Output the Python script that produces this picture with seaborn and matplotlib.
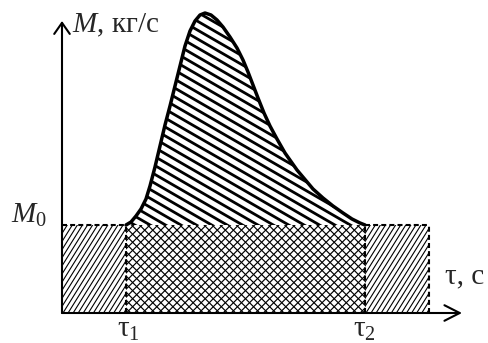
import numpy as np
import matplotlib
matplotlib.use("Agg")
import matplotlib.pyplot as plt
import seaborn as sns
from matplotlib.collections import LineCollection
from matplotlib.patches import Polygon, FancyArrowPatch

# Mass flow pulse M(τ) between τ1 and τ2
tau = [64, 69, 74, 79, 84, 88, 93, 98, 103, 108, 113, 118, 123, 128, 133, 138,
       143, 149, 155, 161, 168, 175, 181, 186, 191, 196, 202, 208, 215, 223,
       235, 251, 261, 271, 281, 290, 298, 303]
M = [88, 91, 97, 104, 114, 127, 146, 167, 188, 207, 227, 247, 267, 282, 292,
     298, 300, 298, 293, 286, 276, 265, 253, 241, 228, 215, 200, 187, 174,
     160, 143, 124, 115, 107, 100, 94, 90, 88]

M0 = 88          # base flow level
tau1 = 64        # start of pulse
tau2 = 303       # end of pulse
tau_end = 367    # right edge of base-flow block
x_axis_end = 400
y_axis_end = 292

sns.set_theme(style="white")
plt.rcParams["font.family"] = ["Liberation Serif", "DejaVu Serif"]
plt.rcParams["mathtext.fontset"] = "custom"
plt.rcParams["mathtext.rm"] = "Liberation Serif"
plt.rcParams["mathtext.it"] = "Liberation Serif:italic"

fig = plt.figure(figsize=(4.88, 3.43), dpi=100)
ax = fig.add_axes([0, 0, 1, 1])
ax.set_xlim(-62, 426)
ax.set_ylim(-30, 313)
ax.axis("off")


def hatch(ax, verts, angle, spacing, lw):
    """Fill a polygon with parallel lines at the given angle (data units ~ px)."""
    patch = Polygon(verts, closed=True, fill=False, edgecolor="none")
    ax.add_patch(patch)
    v = np.asarray(verts, float)
    c = v.mean(axis=0)
    r = np.hypot(*(v.max(axis=0) - v.min(axis=0)))
    a = np.deg2rad(angle)
    d = np.array([np.cos(a), np.sin(a)])
    n = np.array([-np.sin(a), np.cos(a)])
    segs = []
    for off in np.arange(-r, r + spacing, spacing):
        p = c + n * off
        segs.append([p - d * r, p + d * r])
    lc = LineCollection(segs, colors="black", linewidths=lw)
    ax.add_collection(lc)
    lc.set_clip_path(patch)


# pulse area above base level
pulse = list(zip(tau, M))
hatch(ax, pulse, -30, 7.7, 2.0)

# base flow during the pulse
mid = [(tau1, 0), (tau2, 0), (tau2, M0), (tau1, M0)]
hatch(ax, mid, 45, 5.7, 0.85)
hatch(ax, mid, -45, 5.7, 0.85)

# base flow before and after
hatch(ax, [(0, 0), (tau1, 0), (tau1, M0), (0, M0)], 58, 4.3, 0.8)
hatch(ax, [(tau2, 0), (tau_end, 0), (tau_end, M0), (tau2, M0)], 58, 4.3, 0.8)

# pulse outline
sns.lineplot(x=tau, y=M, sort=False, estimator=None, color="black",
             linewidth=2.5, ax=ax)
for ln in ax.get_lines():
    ln.set_solid_joinstyle("round")
    ln.set_solid_capstyle("round")

# dashed base level and boundaries
dash = dict(color="black", linewidth=1.5, dashes=(2.4, 1.5))
ax.plot([0, tau1], [M0, M0], **dash)
ax.plot([tau2, tau_end], [M0, M0], **dash)
ax.plot([tau1, tau1], [0, M0], **dash)
ax.plot([tau2, tau2], [0, M0], **dash)
ax.plot([tau_end, tau_end], [0, M0], **dash)

# axes with arrows
ax.add_patch(FancyArrowPatch((0, 0), (x_axis_end, 0),
                             arrowstyle="->,head_length=0.55,head_width=0.28",
                             mutation_scale=20, color="black", lw=1.5,
                             shrinkA=0, shrinkB=0))
ax.add_patch(FancyArrowPatch((0, 0), (0, y_axis_end),
                             arrowstyle="->,head_length=0.4,head_width=0.28",
                             mutation_scale=20, color="black", lw=1.5,
                             shrinkA=0, shrinkB=0))

fs = 21
ax.text(10, 281, "$M$, кг/с", fontsize=fs, ha="left", va="baseline")
ax.text(-51, 90, "$M_0$", fontsize=fs, ha="left", va="baseline")
ax.text(55, -24, r"$\mathrm{\tau}_1$", fontsize=fs, ha="left", va="baseline")
ax.text(291, -24, r"$\mathrm{\tau}_2$", fontsize=fs, ha="left", va="baseline")
ax.text(383, 30, "τ, с", fontsize=fs, ha="left", va="baseline")

fig.savefig("out.png", dpi=100, facecolor="white")
